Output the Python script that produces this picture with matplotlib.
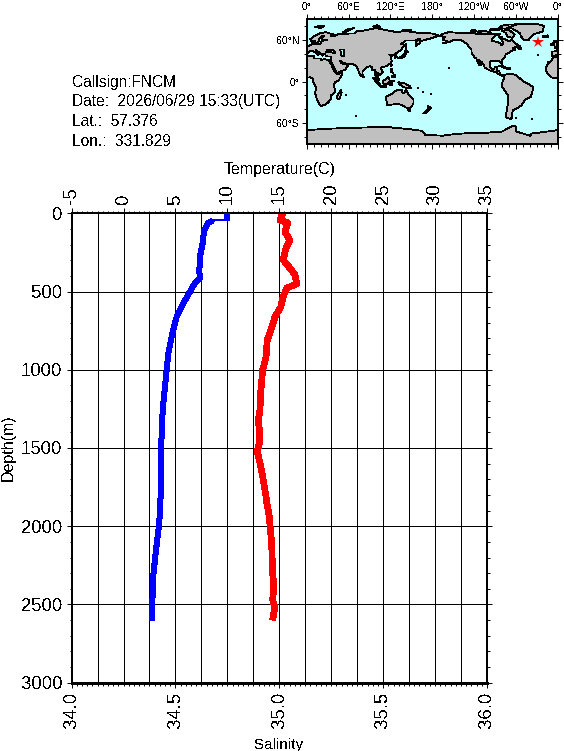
import numpy as np
import matplotlib
matplotlib.use("Agg")
import matplotlib.pyplot as plt

plt.rcParams["font.family"] = ["Liberation Sans", "DejaVu Sans"]
plt.rcParams["text.antialiased"] = False
plt.rcParams["lines.antialiased"] = False
plt.rcParams["patch.antialiased"] = False

## Profile data
temp_depth = [0, 33, 43, 45, 62, 113, 190, 279, 373, 413, 445, 501, 575, 660, 767, 895, 995, 1108,
              1257, 1385, 1495, 1640, 1768, 1883, 1992, 2151, 2311, 2496, 2600]
temp = [9.96, 9.93, 9.93, 8.59, 8.13, 7.75, 7.62, 7.36, 7.30, 7.36, 6.88, 6.40, 5.76, 5.12, 4.70, 4.31, 4.16, 3.99,
        3.77, 3.70, 3.61, 3.61, 3.58, 3.54, 3.42, 3.13, 2.87, 2.77, 2.77]
sal_depth = [0, 43, 62, 120, 171, 222, 298, 350, 394, 452, 477, 535, 599, 663, 733, 810, 918, 1001,
             1150, 1257, 1330, 1385, 1468, 1523, 1596, 1683, 1811, 1843, 1939, 1992, 2107, 2298, 2388, 2471, 2516, 2600]
sal = [35.016, 35.003, 35.042, 35.027, 35.051, 35.032, 35.019, 35.051, 35.076, 35.084, 35.036, 35.018, 35.007,
       34.979, 34.963, 34.942, 34.936, 34.920, 34.910, 34.907, 34.898, 34.905, 34.904, 34.894, 34.907, 34.920,
       34.936, 34.939, 34.952, 34.955, 34.963, 34.968, 34.974, 34.968, 34.979, 34.968]

station_lon = 331.829
station_lat = 57.376

info_lines = ["Callsign:FNCM", "Date:  2026/06/29 15:33(UTC)", "Lat.:  57.376", "Lon.:  331.829"]

sal_ticks = [34.0, 34.5, 35.0, 35.5, 36.0]
temp_ticks = [-5, 0, 5, 10, 15, 20, 25, 30, 35]
depth_ticks = [0, 500, 1000, 1500, 2000, 2500, 3000]

map_lon_ticks = [0, 60, 120, 180, 240, 300, 360]
map_lon_labels = ["0°", "60°E", "120°E", "180°", "120°W", "60°W", "0°"]
map_lat_ticks = [-60, 0, 60]
map_lat_labels = ["60°S", "0°", "60°N"]

## Coastlines, lon 0-360
africa_e = [(0, 5.5), (5, 6), (9, 4), (9.5, 1), (9, -1), (12, -5), (13.5, -10), (12, -17), (15, -27), (18, -33),
            (20, -35), (26, -34), (32, -29), (35, -24), (35, -20), (40, -16), (40, -10), (39, -5), (41, -1), (46, 2),
            (51, 10), (51, 12), (44, 11), (43, 12), (39, 16), (37, 20), (35, 25), (33, 28), (32, 31), (25, 32),
            (20, 31), (20, 33), (11, 33), (10, 37), (0, 36)]
africa_w = [(360, 36), (354, 35), (350, 30), (347, 27), (343, 21), (343, 15), (345, 11), (350, 6), (356, 5), (360, 5.5)]
eurasia = [(0, 49.5), (2, 51), (8, 54), (8, 57), (11, 56), (11, 54), (20, 54.5), (21, 57), (24, 59), (30, 60), (23, 60),
           (21, 63), (25, 65.5), (22, 65.5), (17, 61), (18, 59), (16, 56), (13, 55.5), (11, 59), (7, 58), (5, 61),
           (12, 66), (20, 70), (28, 71), (40, 67), (34, 66), (40, 65), (44, 68), (60, 69), (68, 69), (72, 73), (80, 73),
           (100, 77), (113, 74), (130, 71), (140, 73), (160, 70), (170, 70), (180, 69), (190, 66), (178, 62), (170, 60),
           (163, 58), (162, 55), (156, 51), (156, 57), (163, 62), (155, 59), (142, 59), (135, 54), (140, 53), (135, 45),
           (130, 42), (127, 40), (129, 36), (126, 34), (126, 37), (125, 39), (121, 39), (118, 39), (122, 37), (120, 34),
           (122, 30), (120, 26), (114, 22), (108, 21), (106, 19), (109, 13), (105, 9), (100, 13.5), (104, 1.5), (100, 6),
           (98, 10), (98, 16), (94, 16), (94, 20), (91, 22), (87, 21), (80, 15), (80, 10), (77, 8), (73, 18), (72, 21),
           (67, 25), (57, 25.5), (52, 27), (48, 30), (50, 26), (56, 25), (59, 22), (55, 17), (45, 13), (43, 13), (39, 21),
           (35, 28), (35, 36), (30, 36), (27, 37), (27, 40), (24, 40), (23, 37), (19, 41), (13, 45), (18, 40), (16, 38),
           (12, 42), (8, 44), (3, 43), (0, 39.5)]
iberia = [(360, 39), (355, 36.5), (351, 37), (351, 43), (358, 43.5), (359, 47), (355, 48), (358, 49), (360, 49.5)]
north_america = [(203, 71), (193, 68), (192, 65.5), (198, 64), (195, 60), (202, 58), (200, 56), (195, 55), (205, 57),
                 (210, 60), (214, 60), (220, 60), (225, 57), (230, 54), (233, 49), (236, 47), (236, 42), (240, 35),
                 (243, 33), (247, 24), (250, 23), (246, 31), (251, 28), (254, 23), (255, 20), (262, 16), (266, 15),
                 (272, 13), (277, 9), (280, 8), (283, 9), (283, 9.5), (277, 10), (276, 15), (272, 16), (272, 18),
                 (273, 21), (269, 21), (269, 18.5), (265, 18), (262, 21), (262, 26), (263, 29), (270, 29), (276, 30),
                 (278, 26), (280, 25.5), (279, 31), (284, 35), (285, 39), (289, 41), (293, 44), (296, 45), (299, 46),
                 (295, 48), (300, 50), (303, 52), (298, 56), (294, 60), (290, 58), (282, 62), (278, 62), (282, 55),
                 (279, 52), (278, 55), (272, 57), (265, 59), (266, 62), (270, 66), (278, 68), (270, 69), (260, 68),
                 (250, 68), (235, 70), (220, 70)]
south_america = [(283, 9), (288, 11), (298, 10), (305, 5), (310, 0), (320, -5), (325, -8), (321, -22), (313, -26),
                 (307, -35), (302, -38), (295, -42), (294, -52), (292, -54), (286, -52), (286, -46), (288, -33),
                 (289, -20), (284, -14), (279, -6), (280, -2), (282, 3)]
australia = [(114, -22), (122, -18), (126, -14), (130, -12), (136, -12), (136, -15), (140, -17), (142, -11), (146, -19),
             (153, -26), (153, -31), (150, -37), (145, -39), (138, -35), (131, -32), (124, -33), (115, -34), (114, -26)]
antarctica = [(0, -70), (30, -68), (60, -67), (90, -66), (120, -66), (150, -69), (165, -71), (170, -77), (195, -78),
              (210, -76), (235, -74), (255, -74), (280, -72), (295, -64), (300, -65), (300, -72), (320, -78), (322, -75),
              (345, -72), (360, -70), (360, -90), (0, -90)]
greenland = [(287, 78), (300, 83), (330, 83), (340, 80), (338, 72), (325, 68), (318, 60), (311, 60), (307, 65), (305, 70),
             (295, 76)]
islands = [
    [(131, -1), (141, -3), (148, -7), (150, -10), (143, -9), (138, -8), (133, -4)],
    [(109, 1), (113, 3), (117, 7), (119, 1), (116, -4), (110, -3)],
    [(95, 5.5), (104, -2), (106, -6), (101, -3)],
    [(105, -6), (114, -7), (114, -8.5), (106, -7.5)],
    [(119, -5), (120, 1), (125, 1), (121, -1), (122, -5)],
    [(120, 18), (122, 18), (122, 14), (124, 12.5), (120, 14)],
    [(122, 8), (126, 9.5), (126, 6), (122, 7)],
    [(121, 25), (122, 24), (120.5, 22), (120, 23.5)],
    [(131, 34), (136, 36), (140, 40), (141, 41), (142, 39), (140, 35), (136, 34), (132, 33.5)],
    [(140, 42), (142, 45), (145, 43), (142, 42)],
    [(142, 54), (143, 50), (143, 46), (142, 48)],
    [(80, 9.5), (82, 7), (80.5, 6), (80, 8)],
    [(49, -12), (50, -16), (47, -25), (44, -25), (44, -20), (47, -16)],
    [(173, -35), (178, -38), (175, -41), (174, -38)],
    [(172, -41), (174, -42), (170, -46), (167, -46)],
    [(145, -41), (148, -41), (147, -43.5)],
    [(275, 22), (280, 23), (285, 20), (282, 20), (278, 22)],
    [(288, 20), (292, 19), (291, 18), (286, 18)],
    [(338, 65), (345, 66.5), (346, 64.5), (340, 63.5)],
    [(354, 58), (357, 58.5), (358, 56), (359.9, 53), (359.9, 51), (355, 50), (355, 53)],
    [(350, 54), (352, 55), (354, 54), (354, 52), (350, 52)],
    [(280, 73), (290, 74), (298, 68), (295, 63), (288, 64), (285, 70)],
    [(245, 72), (255, 73), (265, 70), (252, 68.5)],
    [(278, 80), (290, 82), (300, 82), (285, 76), (275, 77)],
    [(235, 73), (240, 74.5), (243, 72), (237, 71)],
    [(262, 74), (280, 75), (278, 76), (265, 76)],
    [(275, 64), (280, 64), (277, 62)],
    [(304, 47), (307, 47), (305, 51), (302, 49)],
    [(12, 79), (25, 80), (20, 77)],
    [(52, 71), (58, 75), (68, 77), (60, 74), (55, 70.5)],
    [(95, 79), (105, 79), (100, 81)],
    [(137, 75), (150, 75), (145, 73)],
]
inland_seas = [
    [(28, 42), (35, 42), (41, 41), (38, 45), (33, 45), (30, 46)],
    [(50, 37), (54, 37), (53, 41), (53, 46), (48, 46), (49, 40)],
]
small_isle_lon = [204, 160, 167, 178, 70, 57, 345, 332, 300, 323]
small_isle_lat = [20, -9, -15, -18, -49, -20, 28, 38, -52, -54]

W, H = 564, 751
fig = plt.figure(figsize=(W / 100, H / 100), dpi=100)


def px_axes(x0, y0, x1, y1):
    return fig.add_axes([x0 / W, 1 - y1 / H, (x1 - x0) / W, (y1 - y0) / H])


## Main profile panel: salinity on the bottom, temperature on top
ax = px_axes(71.6, 213.3, 487.0, 682.7)
ax.set_xlim(34, 36)
ax.set_ylim(3000, 0)
for g in np.arange(34.125, 36, 0.125):
    ax.axvline(g, color="black", lw=0.7, zorder=1)
for d in depth_ticks[1:-1]:
    ax.axhline(d, color="black", lw=0.7, zorder=1)

ax.set_xticks(sal_ticks)
ax.set_xticklabels(["%.1f" % s for s in sal_ticks], rotation=90, fontsize=13.3)
ax.set_xticks(np.arange(34, 36.001, 0.025), minor=True)
ax.set_yticks(depth_ticks)
ax.set_yticklabels(depth_ticks, fontsize=13.3)
ax.set_yticks(np.arange(0, 3001, 100), minor=True)
ax.tick_params(axis="both", which="major", length=3.6, width=0.7, pad=3)
ax.tick_params(axis="both", which="minor", length=1.8, width=0.7)
ax.tick_params(axis="y", which="both", right=True)
ax.set_xlabel("Salinity", fontsize=11, labelpad=7)
ax.set_ylabel("Depth(m)", fontsize=11.5, labelpad=4)

ax2 = ax.twiny()
ax2.set_xlim(-5, 35)
ax2.set_xticks(temp_ticks)
ax2.set_xticklabels(temp_ticks, rotation=90, fontsize=13.3)
ax2.set_xticks(np.arange(-5, 35.01, 0.5), minor=True)
ax2.tick_params(axis="x", which="major", length=3.6, width=0.7, pad=3)
ax2.tick_params(axis="x", which="minor", length=1.8, width=0.7)
ax2.set_xlabel("Temperature(C)", fontsize=11.5, labelpad=7)

ax2.plot(temp, temp_depth, color="#0000ff", lw=1.0, zorder=3)
ax2.plot(temp[:3], temp_depth[:3], color="#0000ff", lw=3.6, solid_capstyle="butt", zorder=3)
ax2.plot(temp[3:], temp_depth[3:], color="#0000ff", lw=3.6, solid_capstyle="butt", zorder=3)
ax.plot(sal, sal_depth, color="#ff0000", lw=4.1, solid_capstyle="butt", zorder=3)

for a in (ax, ax2):
    for name in ("left", "top", "right"):
        a.spines[name].set_linewidth(1.4)
    a.spines["bottom"].set_linewidth(0.9)

## Station info
for i, line in enumerate(info_lines):
    fig.text(72.5 / W, 1 - (82 + i * 19.7) / H, line, fontsize=11.2, va="center", ha="left")

## Location map
m = px_axes(306.7, 19, 558, 144)
m.set_facecolor("#bfffff")
m.set_xlim(0, 360)
m.set_ylim(-90, 90)
for poly in [africa_e, africa_w, eurasia, iberia, north_america, south_america, australia, antarctica,
             greenland] + islands:
    lons, lats = zip(*poly)
    m.fill(lons, lats, facecolor="#c0c0c0", edgecolor="black", lw=0.6, zorder=2)
for poly in inland_seas:
    lons, lats = zip(*poly)
    m.fill(lons, lats, facecolor="#bfffff", edgecolor="black", lw=0.6, zorder=3)
m.scatter(small_isle_lon, small_isle_lat, s=1.5, color="black", marker="s", lw=0, zorder=3)
m.plot([station_lon], [station_lat], marker="*", color="#ff0000", ms=9, mew=0, zorder=4)

m.set_xticks(map_lon_ticks)
m.set_xticklabels(map_lon_labels, fontsize=7.6)
m.set_xticks(np.arange(0, 361, 10), minor=True)
m.set_yticks(map_lat_ticks)
m.set_yticklabels(map_lat_labels, fontsize=7.6)
m.set_yticks(np.arange(-80, 81, 20), minor=True)
m.tick_params(axis="both", which="major", length=3.6, width=0.7, pad=1.5, top=True, right=True, labeltop=True,
              labelbottom=False)
m.tick_params(axis="both", which="minor", length=2, width=0.7, top=True, right=True)
for s in m.spines.values():
    s.set_linewidth(1.4)

fig.savefig("out.png", dpi=100)
